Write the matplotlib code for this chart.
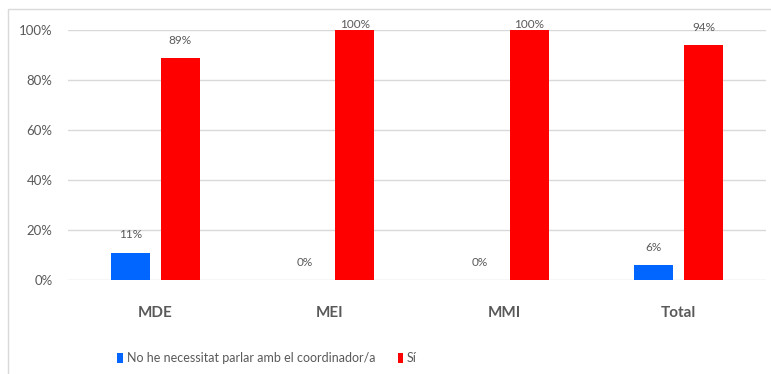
import matplotlib.pyplot as plt
from matplotlib.patches import Rectangle
import numpy as np

categories = ['MDE', 'MEI', 'MMI', 'Total']
no_necessitat = [11, 0, 0, 6]
si = [89, 100, 100, 94]
series_names = ['No he necessitat parlar amb el coordinador/a', 'Sí']
y_ticks = [0, 20, 40, 60, 80, 100]

BLUE = '#0066ff'
RED = '#ff0000'
GRAY = '#595959'

plt.rcParams['font.family'] = ['Lato', 'DejaVu Sans']

fig = plt.figure(figsize=(7.71, 3.74), dpi=100)
ax = fig.add_axes([68 / 771, 94 / 374, 698 / 771, 250 / 374])

# frame around the chart area
fig.patches.append(Rectangle((8 / 771, -0.1), 1.0, (374 - 9) / 374 + 0.1,
                             transform=fig.transFigure, fill=False,
                             edgecolor='#d9d9d9', linewidth=1))

x = np.arange(len(categories))
w = 0.224
off = 0.143
b1 = ax.bar(x - off, no_necessitat, w, color=BLUE, label=series_names[0], zorder=3)
b2 = ax.bar(x + off, si, w, color=RED, label=series_names[1], zorder=3)

# data labels (outside end, kept inside the chart area)
for xs, vals in ((x - off, no_necessitat), (x + off, si)):
    for xi, v in zip(xs, vals):
        ax.text(xi, min(v + 7, 102), f'{v}%', ha='center', va='center',
                fontsize=8.5, color=GRAY, clip_on=False)

ax.set_xlim(-0.5, len(categories) - 0.5)
ax.set_ylim(0, 100)
ax.set_yticks(y_ticks)
ax.set_yticklabels([f'{t}%' for t in y_ticks], fontsize=9.5, color=GRAY)
ax.set_xticks(x)
ax.set_xticklabels(categories, fontsize=11, color=GRAY, fontweight='bold')
ax.tick_params(axis='y', length=0, pad=11)
ax.tick_params(axis='x', length=0, pad=19)
ax.yaxis.grid(True, color='#d9d9d9', linewidth=1, zorder=0)
for s in ax.spines.values():
    s.set_visible(False)

leg = fig.legend(handles=[b1, b2], loc='center', bbox_to_anchor=(267 / 771, 1 - 358 / 374),
                 ncol=2, frameon=False, fontsize=9, handlelength=0.45,
                 handleheight=0.9, handletextpad=0.3, columnspacing=1.8)
for t in leg.get_texts():
    t.set_color(GRAY)

fig.savefig('out.png', dpi=100)
